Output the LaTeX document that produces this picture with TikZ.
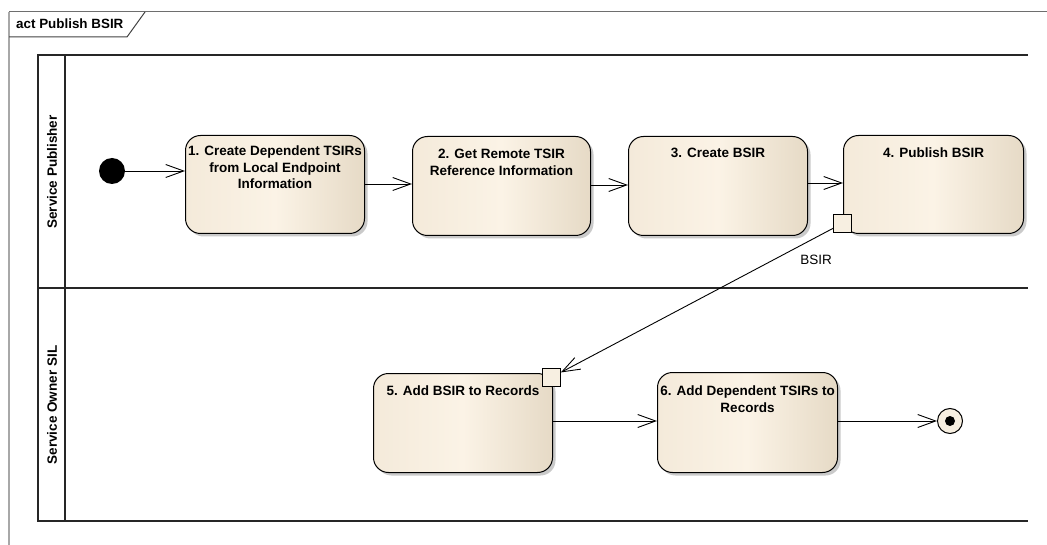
\documentclass[tikz,border=0pt]{standalone}
\usepackage{fontspec}
\setmainfont{Liberation Sans}
\usetikzlibrary{arrows.meta,shadows,calc}

\definecolor{actleft}{HTML}{F4EADA}
\definecolor{actmid}{HTML}{FBF3E6}
\definecolor{actright}{HTML}{E6DAC6}
\definecolor{pinfill}{HTML}{F7EFE1}
\definecolor{framegray}{HTML}{6E6E6E}

\tikzset{
  px/.style={x=1pt,y=-1pt},
  actbox/.style={draw=black, line width=1pt, rounded corners=15pt,
    left color=actleft, right color=actright, middle color=actmid,
    drop shadow={shadow xshift=3pt, shadow yshift=-3pt, opacity=0.35, fill=black!60},
    inner sep=0pt, anchor=north west},
  acttext/.style={font=\fontsize{13.5}{16.5}\selectfont\bfseries, align=center,
    anchor=north, inner sep=0pt},
  pin/.style={draw=black, line width=0.8pt, fill=pinfill, minimum size=18pt,
    inner sep=0pt, anchor=north west},
  flow/.style={line width=0.9pt, -{Straight Barb[length=18pt,width=13pt,line width=0.9pt]}},
  lane/.style={line width=1.3pt, black!85},
  lanetext/.style={font=\fontsize{13.5}{16}\selectfont\bfseries, rotate=90},
}

\begin{document}
\begin{tikzpicture}[px]
  \useasboundingbox (0,0) rectangle (1047,545);

  % diagram frame and its name tab
  \draw[framegray!60, line width=1.2pt] (9,545) -- (9,12);
  \draw[framegray, line width=1pt] (9,12) -- (1047,12);
  \draw[framegray!60!black, line width=1pt] (9,37) -- (127,37) -- (145,12);
  \node[font=\fontsize{13.4}{16}\selectfont\bfseries, anchor=west, inner sep=0pt]
    (tab) at (16,24) {act Publish BSIR};

  % swimlanes
  \draw[lane] (1028,55) -- (38,55) -- (38,521) -- (1028,521);
  \draw[lane] (38,288) -- (1028,288);
  \draw[lane] (65,55) -- (65,521);
  \node[lanetext] (laneA) at (52,172) {Service Publisher};
  \node[lanetext] (laneB) at (52,405) {Service Owner SIL};

  % actions
  \node[actbox, minimum width=179pt, minimum height=98pt] (a1) at (185,135) {};
  \node[actbox, minimum width=178pt, minimum height=99pt] (a2) at (412,136) {};
  \node[actbox, minimum width=179pt, minimum height=99pt] (a3) at (628,136) {};
  \node[actbox, minimum width=180pt, minimum height=98pt] (a4) at (843,135) {};
  \node[actbox, minimum width=179pt, minimum height=99pt] (a5) at (373,373) {};
  \node[actbox, minimum width=180pt, minimum height=100pt] (a6) at (657,372) {};

  \node[acttext] (t1) at ($(a1.north)+(0,11)$)
    {1. Create Dependent TSIRs\\from Local Endpoint\\Information};
  \node[acttext] (t2) at ($(a2.north)+(0,13)$)
    {2. Get Remote TSIR\\Reference Information};
  \node[acttext] (t3) at ($(a3.north)+(0,12)$) {3. Create BSIR};
  \node[acttext] (t4) at ($(a4.north)+(0,13)$) {4. Publish BSIR};
  \node[acttext] (t5) at ($(a5.north)+(0,13)$) {5. Add BSIR to Records};
  \node[acttext] (t6) at ($(a6.north)+(0,14)$) {6. Add Dependent TSIRs to\\Records};

  % pins
  \node[pin] (pout) at (833,214) {};
  \node[pin] (pin5) at (542,368) {};

  % initial and final nodes
  \node[circle, fill=black, minimum size=26pt, inner sep=0pt] (start) at (112,171) {};
  \node[circle, draw=black, line width=1pt, fill=pinfill, minimum size=25pt, inner sep=0pt]
    (final) at (950,421) {};
  \node[circle, fill=black, minimum size=10pt, inner sep=0pt] (finaldot) at (final.center) {};

  % control flows
  \draw[flow] (start) -- (start -| a1.west);
  \draw[flow] (a1.east |- 0,184) -- (a2.west |- 0,184);
  \draw[flow] (a2.east |- 0,185) -- (a3.west |- 0,185);
  \draw[flow] (a3.east |- 0,183) -- (a4.west |- 0,183);
  \draw[flow] (a5.east |- 0,421) -- (a6.west |- 0,421);
  \draw[flow] (a6.east |- 0,421) -- (final.west);

  % object flow
  \draw[flow] (pout) -- (pin5);
  \node[font=\fontsize{13.5}{16}\selectfont, inner sep=0pt] (objlabel) at (816,260) {BSIR};
\end{tikzpicture}
\end{document}
